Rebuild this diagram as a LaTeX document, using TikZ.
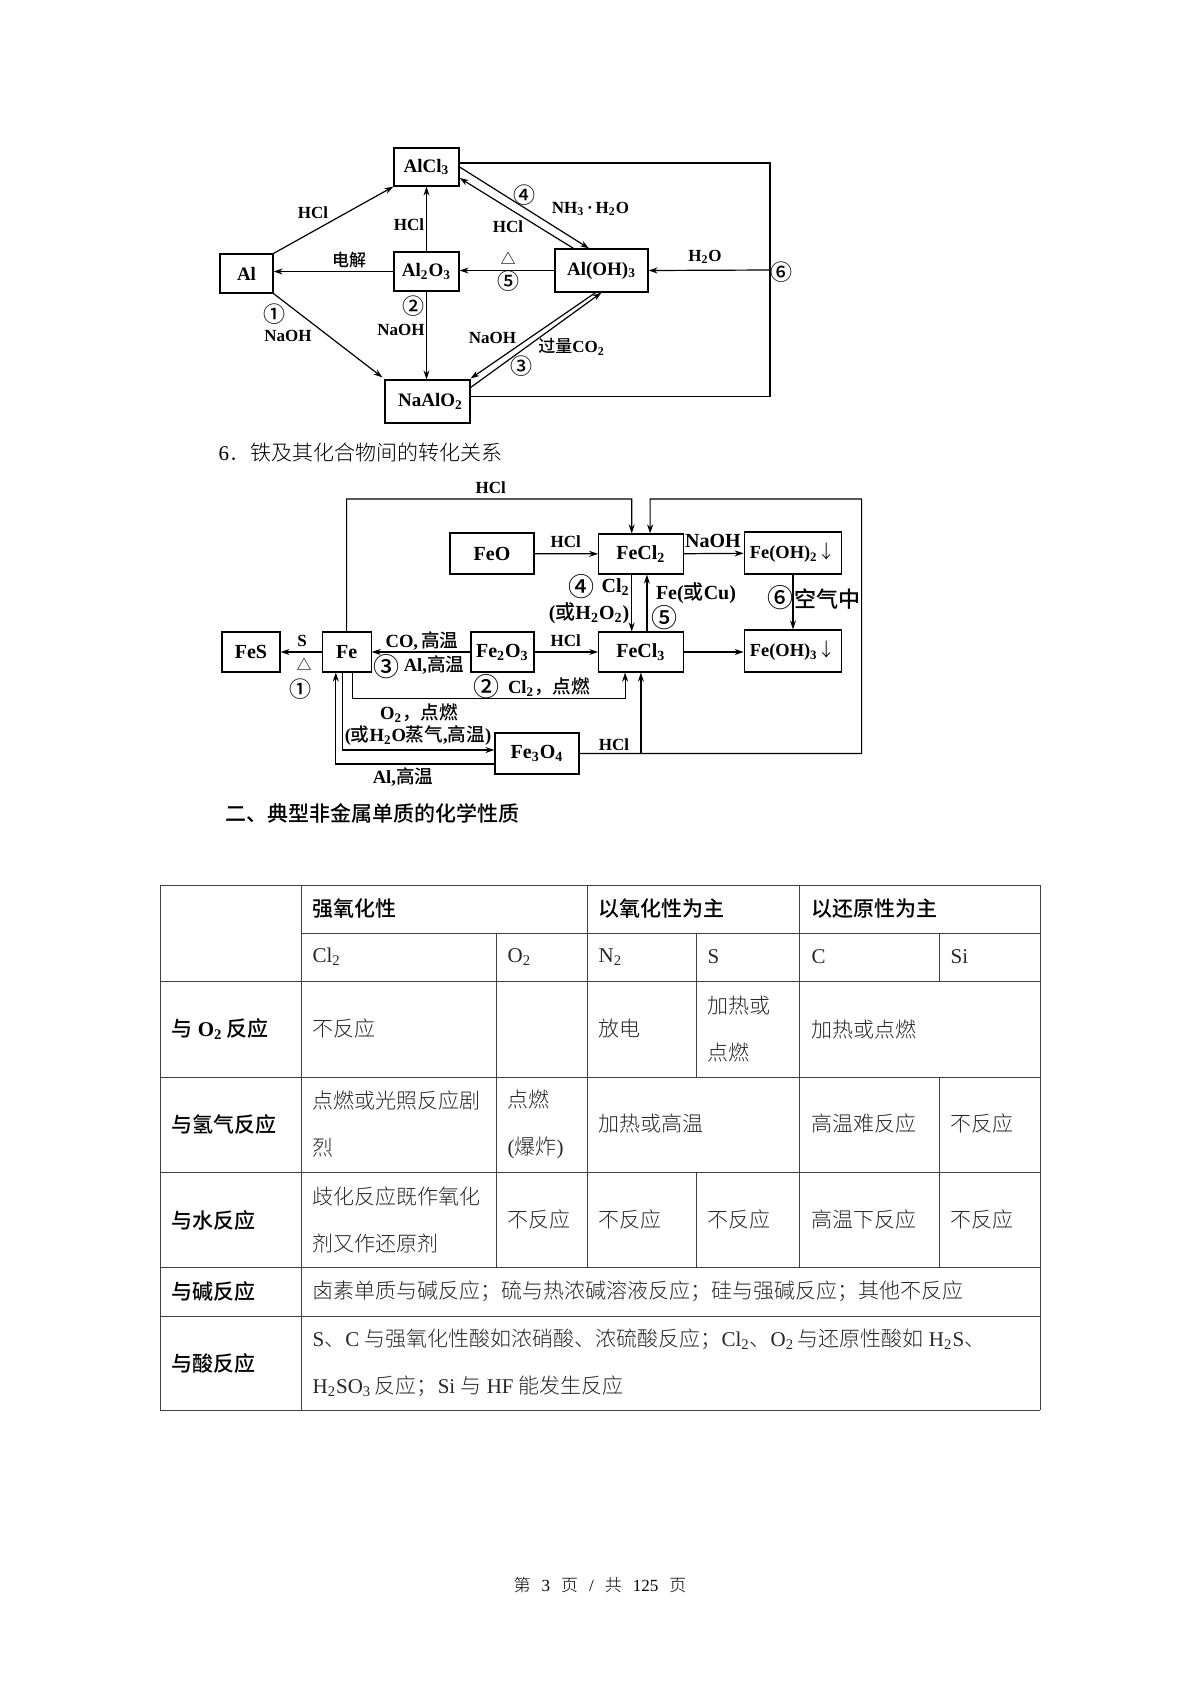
\documentclass[tikz,border=0pt]{standalone}
\usepackage{fontspec}
\setmainfont{Liberation Serif}
\newfontfamily\cjk[UprightFont={* Light},BoldFont={* Medium}]{Noto Sans CJK SC}
\usetikzlibrary{arrows.meta,calc}
\newcommand{\zh}[1]{{\cjk #1}}
\newcommand{\low}[1]{\textsubscript{#1}}

\begin{document}
\begin{tikzpicture}[x=0.5pt,y=-0.5pt,>={Stealth[length=4.5pt,width=3pt]},line width=0.6pt,
  box/.style={draw,inner sep=0pt,font=\bfseries\fontsize{9.5}{11}\selectfont},
  bigbox/.style={box,font=\bfseries\fontsize{10}{12}\selectfont},
  hydbox/.style={box,font=\bfseries\fontsize{9.2}{11}\selectfont},
  lab/.style={inner sep=0pt,font=\bfseries\fontsize{8.5}{10}\selectfont},
  midlab/.style={inner sep=0pt,font=\bfseries\fontsize{9.3}{11}\selectfont},
  biglab/.style={inner sep=0pt,font=\bfseries\fontsize{10}{12}\selectfont},
  num/.style={inner sep=0pt,font=\bfseries\fontsize{11}{12}\selectfont},
  bignum/.style={inner sep=0pt,font=\bfseries\fontsize{13}{14}\selectfont},
  tri/.style={inner sep=0pt,font=\bfseries\fontsize{7.5}{9}\selectfont},
  grid/.style={black!75,line width=0.5pt},
  cell/.style={anchor=west,inner sep=0pt,align=left,text=black!85,font=\fontsize{10.5}{23.5}\selectfont},
  head/.style={cell,text=black,font=\bfseries\fontsize{10.5}{23.5}\selectfont}]
  \useasboundingbox (0,0) rectangle (1200,1698);

  \node[box,minimum width=26.5pt,minimum height=19.5pt] (al) at (246.5,273.5) {Al};
  \node[box,minimum width=32.5pt,minimum height=19pt] (alcl) at (426.5,167) {AlCl\low{3}};
  \node[box,minimum width=32.5pt,minimum height=19.5pt] (alo) at (426.5,271.5) {Al\low{2}O\low{3}};
  \node[box,minimum width=46.5pt,minimum height=21.5pt] (aloh) at (601.5,270.5) {Al(OH)\low{3}};
  \node[box,minimum width=42.5pt,minimum height=21.5pt] (naal) at (427.5,401.5) {\hspace{3pt}NaAlO\low{2}};
  \coordinate (ctr) at (770,163);
  \coordinate (cmr) at (770,270);
  \draw[->] (al.north east) -- (alcl.south west);
  \draw[->] (al.south east) -- ($(naal.north west)+(-2,-2)$);
  \draw[->] (alo.west) -- (al.east |- alo.west);
  \draw[->] (alo) -- (alcl);
  \draw[->] (alo.south) -- (alo.south |- naal.north);
  \draw[->] (aloh.west) -- (alo.east |- aloh.west);
  \draw[->] (alcl.east) -- ($(aloh.north)+(-12.5,0)$);
  \draw[->] ($(aloh.north)+(-28,0)$) -- ($(alcl.east)+(0,11)$);
  \draw[->] ($(aloh.south)+(-6,0)$) -- ($(naal.east)+(0,-23)$);
  \draw[->] ($(naal.east)+(0,-14)$) -- (aloh.south);
  \draw ($(alcl.east)+(0,-4)$) -- (ctr) |- ($(naal.east)+(0,-5)$);
  \draw[->] (cmr) -- (aloh.east);
  \node[lab] (l1) at (313,213) {HCl};
  \node[lab] (l2) at (409,225) {HCl};
  \node[lab] (l3) at (508,227) {HCl};
  \node[num] (n4) at (524,195) {\zh{④}};
  \node[lab] (l4) at (590.5,209) {NH\low{3}\,·\,H\low{2}O};
  \node[lab] (l5) at (349,260) {\zh{电解}};
  \node[tri] (dla) at (508,258) {\zh{△}};
  \node[num] (n5) at (508,281) {\zh{⑤}};
  \node[lab] (l6) at (705,257) {H\low{2}O};
  \node[num] (n6) at (781,272) {\zh{⑥}};
  \node[num] (n1) at (274,314) {\zh{①}};
  \node[lab] (l7) at (288,336) {NaOH};
  \node[num] (n2) at (413,306) {\zh{②}};
  \node[lab] (l8) at (401,330) {NaOH};
  \node[lab] (l9) at (492.5,338) {NaOH};
  \node[lab] (l10) at (571.5,347) {\zh{过量}CO\low{2}};
  \node[num] (n3) at (521,366) {\zh{③}};

  \node[cell,text=black] (t6) at (218,452) {6\zh{．铁及其化合物间的转化关系}};

  \node[bigbox,minimum width=29pt,minimum height=20pt] (fes) at (251,652) {FeS};
  \node[bigbox,minimum width=24.5pt,minimum height=20pt] (fe) at (346.6,652) {Fe};
  \node[bigbox,minimum width=31.5pt,minimum height=20pt] (feiii) at (502.4,652) {Fe\low{2}O\low{3}};
  \node[bigbox,minimum width=42.2pt,minimum height=20pt] (fecla) at (640.9,652) {FeCl\low{3}};
  \node[hydbox,minimum width=48.8pt,minimum height=21pt] (fehc) at (793,651) {Fe(OH)\low{3}{\mdseries\zh{↓}}};
  \node[bigbox,minimum width=42pt,minimum height=20.5pt] (feo) at (492,553.5) {FeO};
  \node[bigbox,minimum width=42.2pt,minimum height=20pt] (feclb) at (640.9,554) {FeCl\low{2}};
  \node[hydbox,minimum width=48.8pt,minimum height=21pt] (fehb) at (793,553) {Fe(OH)\low{2}{\mdseries\zh{↓}}};
  \node[bigbox,minimum width=42pt,minimum height=20.5pt] (feiv) at (537,753.5) {Fe\low{3}O\low{4}};
  \coordinate (ctopa) at (631.7,499);
  \coordinate (ctopb) at (650.1,499);
  \coordinate (cright) at (861.6,499);
  \coordinate (cjoin) at (fecla.south |- feiv.east);
  \draw[->] (feo) -- (feclb);
  \draw[->] (feclb) -- (fehb);
  \draw[->] (fehb) -- (fehc);
  \draw[->] (feiii) -- (fecla);
  \draw[->] (fecla) -- (fehc.west |- fecla);
  \draw[->] (feiii) -- (fe);
  \draw[->] (fe) -- (fes);
  \draw[->] ($(feclb.south)+(-9.2,0)$) -- ($(fecla.north)+(-9.2,0)$);
  \draw[->] ($(fecla.north)+(6,0)$) -- ($(feclb.south)+(6,0)$);
  \draw[->] (fe.north) |- (ctopa) -- ($(feclb.north)+(-9.2,0)$);
  \draw[->] (feiv.east) -| (cright) -- (ctopb) -- ($(feclb.north)+(9.2,0)$);
  \draw[->] (cjoin) -- (fecla.south);
  \draw[->] ($(fe.south)+(6,0)$) -- ++(0,26) -| ($(fecla.south)+(-15.8,0)$);
  \draw[->] ($(fe.south)+(-4.3,0)$) |- ($(feiv.west)+(0,-3.5)$);
  \draw[->] ($(feiv.west)+(0,10.5)$) -| ($(fe.south)+(-10.8,0)$);
  \node[lab] (m1) at (490.7,488) {HCl};
  \node[lab] (m2) at (565.7,542) {HCl};
  \node[biglab] (m3) at (713,541) {NaOH};
  \node[bignum] (k4) at (581.8,587) {\zh{④}};
  \node[biglab] (m4) at (615.6,587) {Cl\low{2}};
  \node[biglab] (m5) at (589,613) {(\zh{或}H\low{2}O\low{2})};
  \node[biglab] (m6) at (696,593) {Fe(\zh{或}Cu)};
  \node[bignum] (k5) at (664,618) {\zh{⑤}};
  \node[bignum] (k6) at (780.5,598) {\zh{⑥}};
  \node[biglab,font=\bfseries\fontsize{11}{12}\selectfont] (m7) at (827.8,599) {\zh{空气中}};
  \node[lab] (m8) at (302,641) {S};
  \node[tri] (dlb) at (304,664) {\zh{△}};
  \node[num] (k1) at (300,689) {\zh{①}};
  \node[midlab] (m9) at (422,641) {CO,\,\zh{高温}};
  \node[bignum] (k3) at (386.5,667) {\zh{③}};
  \node[midlab] (m10) at (434,665) {Al,\zh{高温}};
  \node[lab] (m11) at (565.7,641) {HCl};
  \node[bignum] (k2) at (486,687) {\zh{②}};
  \node[midlab] (m12) at (549,687) {Cl\low{2}\zh{，点燃}};
  \node[midlab] (m13) at (419,713) {O\low{2}\zh{，点燃}};
  \node[midlab] (m14) at (418,736) {(\zh{或}H\low{2}O\zh{蒸气},\zh{高温})};
  \node[lab] (m15) at (614,745) {HCl};
  \node[midlab] (m16) at (403,777) {Al,\zh{高温}};

  \node[head] (t7) at (225,813) {\zh{二、典型非金属单质的化学性质}};

  \foreach \ya in {885,981,1077,1172,1267,1316,1410}
    \draw[grid] (160,\ya) -- (1040,\ya);
  \draw[grid] (301,933) -- (1040,933);
  \foreach \xa/\ya/\yb in {160/885/1410,301/885/1410,1040/885/1410,496/933/1267,587/885/1267,
    696/933/1077,696/1172/1267,799/885/1267,939/933/981,939/1077/1267}
    \draw[grid] (\xa,\ya) -- (\xa,\yb);
  \node[head] (a1) at (312,909) {\zh{强氧化性}};
  \node[head] (a2) at (598,909) {\zh{以氧化性为主}};
  \node[head] (a3) at (811,909) {\zh{以还原性为主}};
  \node[cell] (b1) at (312,957) {Cl\low{2}};
  \node[cell] (b2) at (507,957) {O\low{2}};
  \node[cell] (b3) at (598,957) {N\low{2}};
  \node[cell] (b4) at (707,957) {S};
  \node[cell] (b5) at (811,957) {C};
  \node[cell] (b6) at (950,957) {Si};
  \node[head] (c0) at (171,1029) {\zh{与} O\low{2}\,\zh{反应}};
  \node[cell] (c1) at (312,1029) {\zh{不反应}};
  \node[cell] (c3) at (598,1029) {\zh{放电}};
  \node[cell] (c4) at (707,1029) {\zh{加热或}\\\zh{点燃}};
  \node[cell] (c5) at (811,1029) {\zh{加热或点燃}};
  \node[head] (d0) at (171,1124) {\zh{与氢气反应}};
  \node[cell] (d1) at (312,1124) {\zh{点燃或光照反应剧}\\\zh{烈}};
  \node[cell] (d2) at (507,1124) {\zh{点燃}\\(\zh{爆炸})};
  \node[cell] (d3) at (598,1124) {\zh{加热或高温}};
  \node[cell] (d5) at (811,1124) {\zh{高温难反应}};
  \node[cell] (d6) at (950,1124) {\zh{不反应}};
  \node[head] (e0) at (171,1220) {\zh{与水反应}};
  \node[cell] (e1) at (312,1220) {\zh{歧化反应既作氧化}\\\zh{剂又作还原剂}};
  \node[cell] (e2) at (507,1220) {\zh{不反应}};
  \node[cell] (e3) at (598,1220) {\zh{不反应}};
  \node[cell] (e4) at (707,1220) {\zh{不反应}};
  \node[cell] (e5) at (811,1220) {\zh{高温下反应}};
  \node[cell] (e6) at (950,1220) {\zh{不反应}};
  \node[head] (f0) at (171,1291) {\zh{与碱反应}};
  \node[cell] (f1) at (312,1291) {\zh{卤素单质与碱反应；硫与热浓碱溶液反应；硅与强碱反应；其他不反应}};
  \node[head] (g0) at (171,1363) {\zh{与酸反应}};
  \node[cell] (g1) at (312,1363) {S\zh{、}C \zh{与强氧化性酸如浓硝酸、浓硫酸反应；}Cl\low{2}\zh{、}O\low{2}\,\zh{与还原性酸如} H\low{2}S\zh{、}\\H\low{2}SO\low{3}\,\zh{反应；}Si \zh{与} HF \zh{能发生反应}};

  \node[cell,anchor=center,text=black,font=\fontsize{8.5}{11}\selectfont] (pg) at (600,1585) {\zh{第}\hspace{5.5pt}3\hspace{5.5pt}\zh{页}\hspace{5.5pt}/\hspace{5.5pt}\zh{共}\hspace{5.5pt}125\hspace{5.5pt}\zh{页}};
\end{tikzpicture}
\end{document}
